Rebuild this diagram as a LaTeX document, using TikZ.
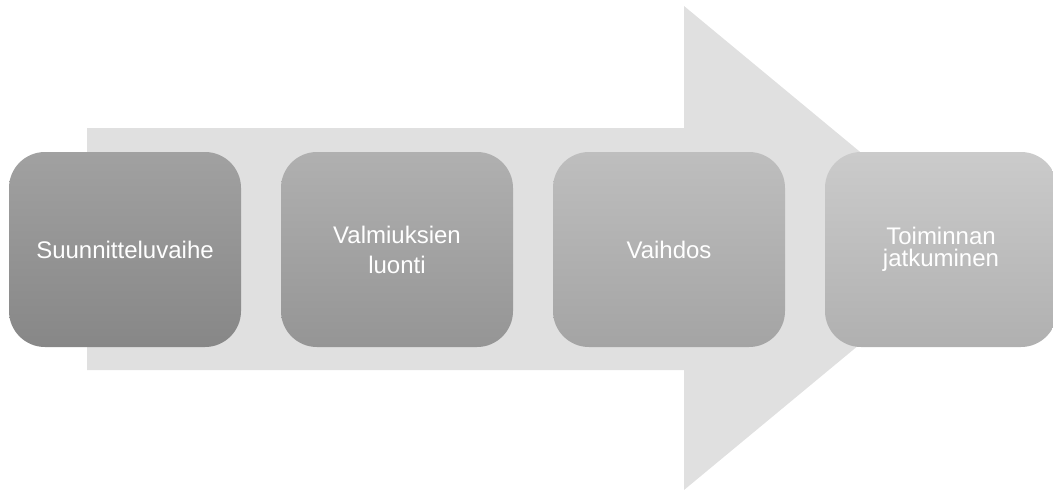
\documentclass[tikz,border=0pt]{standalone}
\usepackage{fontspec}
\setmainfont{Liberation Sans}
\usetikzlibrary{positioning}
\definecolor{arrowgray}{HTML}{E0E0E0}
\definecolor{planTop}{HTML}{A1A1A1}
\definecolor{planBot}{HTML}{878787}
\definecolor{valmTop}{HTML}{B0B0B0}
\definecolor{valmBot}{HTML}{959595}
\definecolor{vaihTop}{HTML}{BEBEBE}
\definecolor{vaihBot}{HTML}{A4A4A4}
\definecolor{jatkoTop}{HTML}{CBCBCB}
\definecolor{jatkoBot}{HTML}{B0B0B0}
\tikzset{
	phase/.style={rectangle, rounded corners=36pt, minimum width=232pt, minimum height=195pt, inner sep=0pt, align=center, text=white, font=\fontsize{24}{30}\selectfont}, % sets the properties for each box
	bigarrow/.style={fill=arrowgray, draw=none}, % the background arrow
}
\begin{document}
\begin{tikzpicture}[x=1pt, y=-1pt, node distance=272pt, on grid]
		\useasboundingbox (0,0) rectangle (1053,490);
		% Background arrow
		\fill[bigarrow] (87,128) -- (684,128) -- (684,6) -- (976,248) -- (684,490) -- (684,370) -- (87,370) -- cycle;
		
		% Define the boxes
		\node[phase, top color=planTop, bottom color=planBot] (plan) at (125,249.5) {Suunnitteluvaihe};
		\node[phase, top color=valmTop, bottom color=valmBot, right=of plan] (valm) {Valmiuksien\\luonti};
		\node[phase, top color=vaihTop, bottom color=vaihBot, right=of valm] (vaih) {Vaihdos};
		\node[phase, top color=jatkoTop, bottom color=jatkoBot, right=of vaih, font=\fontsize{24}{22}\selectfont] (jatko) {Toiminnan\\jatkuminen};
	\end{tikzpicture}
\end{document}
